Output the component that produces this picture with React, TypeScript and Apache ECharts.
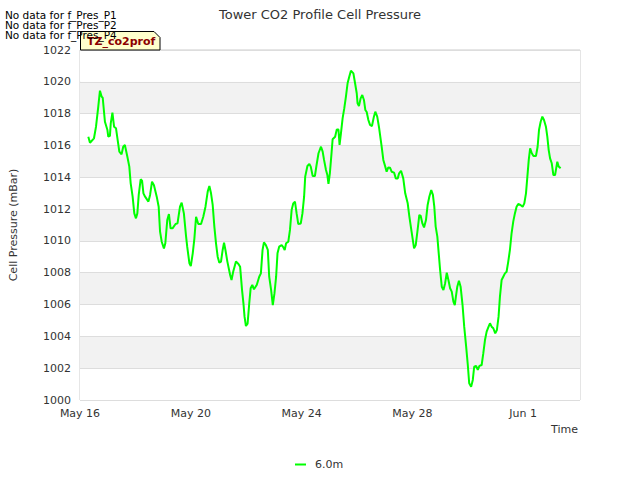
import React, { useEffect, useRef } from "react";
import * as echarts from "echarts";

// Days since May 16 00:00
const dayOffsets: number[] = [
  0.30, 0.36, 0.505, 0.578, 0.66, 0.72, 0.78, 0.82, 0.90, 0.99, 1.02, 1.08, 1.11, 1.17, 1.23, 1.30,
  1.36, 1.42, 1.50, 1.56, 1.62, 1.71, 1.78, 1.83, 1.90, 1.96, 2.02, 2.07, 2.12, 2.19, 2.24, 2.29,
  2.35, 2.47, 2.53, 2.60, 2.67, 2.77, 2.84, 2.89, 2.95, 3.03, 3.08, 3.15, 3.21, 3.27, 3.34, 3.45,
  3.52, 3.61, 3.67, 3.75, 3.83, 3.87, 3.95, 4.00, 4.07, 4.13, 4.19, 4.27, 4.37, 4.45, 4.53, 4.61,
  4.67, 4.73, 4.79, 4.85, 4.91, 4.97, 5.03, 5.09, 5.15, 5.20, 5.25, 5.32, 5.42, 5.47, 5.53, 5.63,
  5.72, 5.78, 5.85, 5.90, 5.94, 5.99, 6.05, 6.11, 6.16, 6.22, 6.28, 6.38, 6.47, 6.53, 6.59, 6.64,
  6.71, 6.78, 6.83, 6.90, 6.96, 7.02, 7.08, 7.13, 7.19, 7.28, 7.34, 7.39, 7.44, 7.52, 7.58, 7.64,
  7.70, 7.76, 7.82, 7.88, 7.97, 8.03, 8.09, 8.13, 8.21, 8.28, 8.33, 8.40, 8.48, 8.54, 8.61, 8.70,
  8.76, 8.81, 8.88, 8.93, 8.97, 9.02, 9.08, 9.12, 9.21, 9.27, 9.33, 9.37, 9.42, 9.48, 9.54, 9.60,
  9.66, 9.72, 9.78, 9.87, 9.93, 9.99, 10.02, 10.07, 10.13, 10.19, 10.25, 10.30, 10.35, 10.41, 10.47, 10.54,
  10.61, 10.66, 10.73, 10.80, 10.89, 10.95, 11.02, 11.07, 11.13, 11.19, 11.25, 11.34, 11.40, 11.47, 11.52, 11.59,
  11.67, 11.74, 11.83, 11.89, 11.97, 12.06, 12.12, 12.18, 12.25, 12.30, 12.36, 12.42, 12.49, 12.55, 12.61, 12.68,
  12.74, 12.79, 12.84, 12.90, 12.95, 13.00, 13.06, 13.12, 13.18, 13.24, 13.30, 13.36, 13.42, 13.48, 13.53, 13.57,
  13.62, 13.68, 13.74, 13.81, 13.87, 13.94, 14.00, 14.05, 14.12, 14.18, 14.23, 14.30, 14.36, 14.42, 14.50, 14.56,
  14.62, 14.68, 14.75, 14.80, 14.86, 14.92, 14.99, 15.05, 15.11, 15.16, 15.22, 15.28, 15.34, 15.40, 15.46, 15.52,
  15.58, 15.64, 15.70, 15.76, 15.82, 15.90, 15.98, 16.04, 16.10, 16.15, 16.20, 16.25, 16.31, 16.37, 16.46, 16.52,
  16.57, 16.63, 16.69, 16.75, 16.82, 16.87, 16.92, 16.97, 17.03, 17.09, 17.15, 17.19, 17.23, 17.28, 17.35,
];

// Cell pressure at 6.0m (mBar)
const pressure6m: number[] = [
  1016.55, 1016.17, 1016.45, 1017.18, 1018.44, 1019.44, 1019.07, 1019.0, 1017.49, 1016.97, 1016.55, 1016.6, 1017.39, 1018.06, 1017.18, 1017.08,
  1016.34, 1015.61, 1015.44, 1015.92, 1016.03, 1015.29, 1014.67, 1013.62, 1012.78, 1011.73, 1011.42, 1011.73, 1012.89, 1013.87, 1013.79, 1012.99,
  1012.78, 1012.47, 1012.89, 1013.72, 1013.5, 1012.78, 1012.15, 1010.58, 1009.95, 1009.53, 1009.85, 1011.31, 1011.69, 1010.79, 1010.79, 1011.06,
  1011.1, 1012.15, 1012.40, 1011.73, 1010.27, 1009.64, 1008.59, 1008.42, 1009.22, 1010.16, 1011.52, 1011.06, 1011.06, 1011.52, 1012.15, 1013.10,
  1013.45, 1012.99, 1012.26, 1010.90, 1009.85, 1009.01, 1008.63, 1008.7, 1009.43, 1009.89, 1009.43, 1008.70, 1007.86, 1007.54, 1008.06, 1008.70,
  1008.55, 1008.38, 1006.91, 1006.08, 1005.24, 1004.65, 1004.8, 1006.08, 1007.02, 1007.23, 1006.96, 1007.23, 1007.75, 1007.96, 1009.43, 1009.91,
  1009.74, 1009.43, 1007.75, 1006.91, 1005.97, 1006.7, 1007.75, 1009.22, 1009.64, 1009.74, 1009.6, 1009.43, 1009.85, 1009.95, 1010.69, 1011.94,
  1012.36, 1012.47, 1011.73, 1011.06, 1011.1, 1011.73, 1012.78, 1014.04, 1014.71, 1014.83, 1014.67, 1014.08, 1014.08, 1014.77, 1015.51, 1015.92,
  1015.61, 1015.09, 1014.46, 1014.14, 1013.58, 1014.25, 1015.51, 1016.39, 1016.55, 1017.01, 1017.0, 1016.03, 1016.76, 1017.70, 1018.33, 1019.07,
  1019.91, 1020.32, 1020.70, 1020.53, 1019.91, 1019.28, 1018.65, 1018.48, 1018.96, 1019.17, 1018.86, 1018.23, 1018.1, 1017.60, 1017.29, 1017.22,
  1017.81, 1018.12, 1017.81, 1017.08, 1015.92, 1015.09, 1014.67, 1014.35, 1014.62, 1014.6, 1014.35, 1014.29, 1013.93, 1013.93, 1014.25, 1014.41,
  1013.93, 1012.99, 1012.36, 1011.52, 1010.58, 1009.53, 1009.74, 1010.58, 1011.63, 1011.57, 1011.10, 1010.85, 1011.31, 1012.26, 1012.78, 1013.20,
  1012.89, 1012.15, 1010.90, 1010.27, 1009.22, 1008.17, 1007.12, 1006.91, 1007.33, 1008.0, 1007.54, 1007.02, 1006.81, 1006.18, 1005.97, 1006.50,
  1007.12, 1007.50, 1007.12, 1005.97, 1004.61, 1003.35, 1002.20, 1001.05, 1000.84, 1001.26, 1002.09, 1002.14, 1001.89, 1002.14, 1002.20, 1002.94,
  1003.77, 1004.30, 1004.61, 1004.82, 1004.61, 1004.51, 1004.19, 1004.40, 1005.24, 1006.50, 1007.54, 1007.75, 1007.96, 1008.06, 1008.70, 1009.43,
  1010.48, 1011.21, 1011.73, 1012.15, 1012.32, 1012.26, 1012.15, 1012.36, 1012.99, 1014.04, 1015.09, 1015.82, 1015.51, 1015.34, 1015.34, 1015.92,
  1016.97, 1017.49, 1017.81, 1017.60, 1017.18, 1016.55, 1015.71, 1015.19, 1014.88, 1014.14, 1014.14, 1014.56, 1014.98, 1014.67, 1014.56,
];

const xTickLabels: Record<number, string> = {
  0: "May 16",
  4: "May 20",
  8: "May 24",
  12: "May 28",
  16: "Jun 1",
};

const noDataLines: string[] = [
  "No data for f_Pres_P1",
  "No data for f_Pres_P2",
  "No data for f_Pres_P4",
];

const seriesName = "6.0m";
const titleText = "Tower CO2 Profile Cell Pressure";
const yAxisTitle = "Cell Pressure (mBar)";
const xAxisTitle = "Time";
const boxLabel = "TZ_co2prof";

const FONT = "DejaVu Sans";

export default function App() {
  const ref = useRef<HTMLDivElement>(null);

  useEffect(() => {
    if (!ref.current) return;
    const chart = echarts.init(ref.current, undefined, { renderer: "svg" });
    const data = dayOffsets.map((d, i) => [d, pressure6m[i]]);

    chart.setOption({
      animation: false,
      backgroundColor: "#ffffff",
      textStyle: { fontFamily: FONT },
      title: {
        text: titleText,
        left: "center",
        top: 3,
        textStyle: { fontFamily: FONT, fontSize: 13, fontWeight: "normal", color: "#333" },
      },
      grid: {
        left: 80,
        right: 60,
        top: 50,
        bottom: 80,
        show: true,
        borderColor: "#cccccc",
        borderWidth: 1,
        backgroundColor: "transparent",
      },
      legend: {
        data: [seriesName],
        left: 290,
        top: 454,
        icon: "rect",
        itemWidth: 11,
        itemHeight: 2,
        textStyle: { fontFamily: FONT, fontSize: 11, color: "#333", padding: [0, 0, 0, 4] },
      },
      xAxis: {
        type: "value",
        min: 0,
        max: 18.05,
        interval: 4,
        axisLine: { show: false },
        axisTick: { show: false },
        splitLine: { show: false },
        axisLabel: {
          showMaxLabel: false,
          fontFamily: FONT,
          fontSize: 11,
          color: "#333",
          margin: 8,
          formatter: (v: number) => xTickLabels[Math.round(v)] ?? "",
        },
      },
      yAxis: {
        type: "value",
        min: 1000,
        max: 1022,
        interval: 2,
        name: yAxisTitle,
        nameLocation: "middle",
        nameGap: 61,
        nameTextStyle: { fontFamily: FONT, fontSize: 11, color: "#333" },
        axisLine: { show: false },
        axisTick: { show: false },
        axisLabel: {
          fontFamily: FONT,
          fontSize: 11,
          color: "#333",
          margin: 9,
          formatter: (v: number) => String(Math.round(v)),
        },
        splitLine: { show: true, lineStyle: { color: "#dddddd", width: 1 } },
        splitArea: { show: true, areaStyle: { color: ["#ffffff", "#f2f2f2"] } },
      },
      series: [
        {
          name: seriesName,
          type: "line",
          data,
          showSymbol: false,
          symbol: "none",
          lineStyle: { color: "#00ff00", width: 2 },
          itemStyle: { color: "#00ff00" },
        },
      ],
      graphic: [
        {
          type: "polygon",
          shape: { points: [[80.5, 31.5], [154, 31.5], [160, 37.5], [160, 50], [80.5, 50]] },
          style: { fill: "#ffffcc", stroke: "#000", lineWidth: 1 },
          z: 20,
        },
        {
          type: "text",
          x: 87,
          y: 36,
          style: { text: boxLabel, fontFamily: FONT, fontSize: 11, fontWeight: "bold", fill: "#8b0000" },
          z: 21,
        },
        ...noDataLines.map((t, i) => ({
          type: "text",
          left: 5,
          top: 9 + i * 10,
          style: { text: t, fontFamily: FONT, fontSize: 10.5, fill: "#000" },
          z: 30,
        })),
        {
          type: "text",
          right: 62,
          top: 424,
          style: { text: xAxisTitle, fontFamily: FONT, fontSize: 11, fill: "#333" },
        },
      ],
    });

    return () => chart.dispose();
  }, []);

  return <div ref={ref} style={{ width: 640, height: 480, position: "absolute", left: 0, top: 0 }} />;
}
